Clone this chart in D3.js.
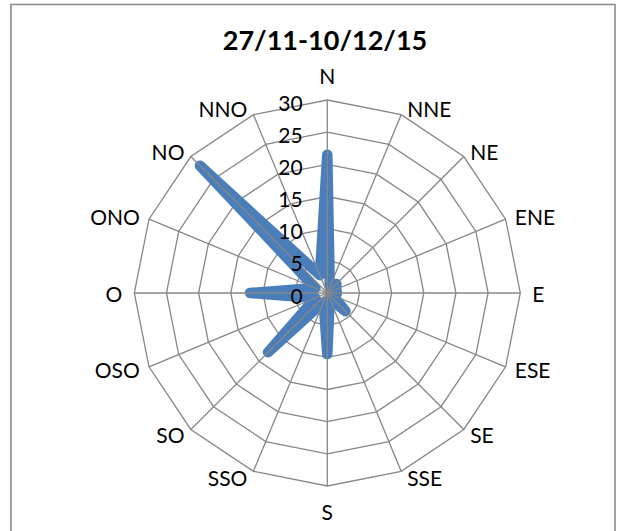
<!DOCTYPE html>
<html>
<head>
<meta charset="utf-8">
<script src="https://cdn.jsdelivr.net/npm/d3@7"></script>
<style>
  html, body { margin: 0; padding: 0; background: #fff; }
  svg { display: block; font-family: Lato, "Open Sans", sans-serif; }
</style>
</head>
<body>
<svg id="chart" width="622" height="531"></svg>
<script>
// Wind direction frequencies, 27/11-10/12/15
const title = "27/11-10/12/15";
const directions = ["N", "NNE", "NE", "ENE", "E", "ESE", "SE", "SSE",
                    "S", "SSO", "SO", "OSO", "O", "ONO", "NO", "NNO"];
const values = [21.5, 1, 2, 1.5, 1.5, 1, 4, 1,
                9.5, 1.5, 13, 2, 12, 2, 28, 3];
const ticks = [0, 5, 10, 15, 20, 25, 30];

const svg = d3.select("#chart");
const cx = 327.3, cy = 293, R = 193;
const gridColor = "#878787";
const seriesColor = "#4A7EBB";

const r = d3.scaleLinear().domain([0, 30]).range([0, R]);
const step = 2 * Math.PI / directions.length;
const ang = (d, i) => i * step;

// chart area border
svg.append("rect")
  .attr("x", 11).attr("y", 4.5).attr("width", 604).attr("height", 560)
  .attr("fill", "#fff").attr("stroke", "#8c8c8c").attr("stroke-width", 1.6);

// title
svg.append("text")
  .attr("x", 325).attr("y", 50)
  .attr("text-anchor", "middle")
  .attr("font-weight", "bold").attr("font-size", 27)
  .attr("fill", "#000")
  .text(title);

const g = svg.append("g").attr("transform", `translate(${cx},${cy})`);

// concentric polygon gridlines
const ring = d3.lineRadial().curve(d3.curveLinearClosed);
g.append("g").selectAll("path")
  .data(ticks.filter(t => t > 0))
  .join("path")
  .attr("d", t => ring(directions.map((d, i) => [ang(d, i), r(t)])))
  .attr("fill", "none").attr("stroke", gridColor).attr("stroke-width", 1.3);

// data series
const line = d3.lineRadial()
  .angle((d, i) => ang(d, i))
  .radius(d => r(d))
  .curve(d3.curveLinearClosed);
g.append("path")
  .datum(values)
  .attr("d", line)
  .attr("fill", "none")
  .attr("stroke", seriesColor)
  .attr("stroke-width", 10.5)
  .attr("stroke-linejoin", "round")
  .attr("stroke-linecap", "round");

// spokes
g.append("g").selectAll("line")
  .data(directions)
  .join("line")
  .attr("x1", 0).attr("y1", 0)
  .attr("x2", (d, i) => r(30) * Math.sin(ang(d, i)))
  .attr("y2", (d, i) => -r(30) * Math.cos(ang(d, i)))
  .attr("stroke", gridColor).attr("stroke-width", 1.3);

// value axis labels
const tickFont = 21;
g.append("g").selectAll("text")
  .data(ticks)
  .join("text")
  .attr("x", -24.6)
  .attr("y", t => -r(t) + 3 + 0.36 * tickFont)
  .attr("text-anchor", "end")
  .attr("font-size", tickFont)
  .attr("fill", "#000")
  .text(t => t);

// direction labels
const catFont = 21;
g.append("g").selectAll("text")
  .data(directions)
  .join("text")
  .attr("font-size", catFont)
  .attr("fill", "#000")
  .each(function (d, i) {
    const a = ang(d, i);
    const s = Math.sin(a), c = Math.cos(a);
    const ex = r(30) * s, ey = -r(30) * c;
    const t = d3.select(this);
    if (Math.abs(s) < 0.01) {
      t.attr("x", ex).attr("y", ey - c * 25 + 1 + 0.36 * catFont)
       .attr("text-anchor", "middle");
    } else {
      const gap = 6 + 6 * Math.pow(Math.abs(s), 8);
      t.attr("x", ex + Math.sign(s) * gap)
       .attr("y", ey + 1 - 7 * c + 0.36 * catFont)
       .attr("text-anchor", s > 0 ? "start" : "end");
    }
  })
  .text(d => d);
</script>
</body>
</html>
